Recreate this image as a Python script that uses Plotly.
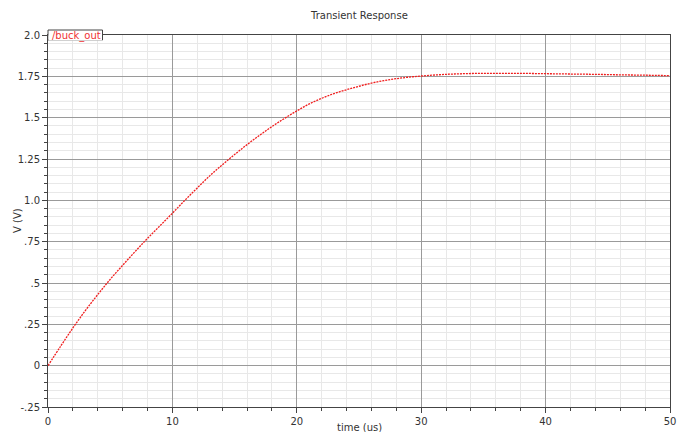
import plotly.graph_objects as go

# time (us)
time_us = [0, 1, 2, 3, 4, 5, 6, 7, 8, 9, 10, 11, 12, 13, 14, 15, 16, 17, 18, 19, 20,
           21, 22, 23, 24, 25, 26, 27, 28, 29, 30, 32, 34, 36, 38, 40, 42, 44, 46, 48, 50]
# /buck_out voltage (V)
buck_out = [0.0, 0.116, 0.228, 0.333, 0.43, 0.522, 0.607, 0.69, 0.77, 0.846, 0.922,
            1.0, 1.075, 1.148, 1.214, 1.277, 1.337, 1.393, 1.446, 1.495, 1.541,
            1.583, 1.617, 1.646, 1.669, 1.69, 1.709, 1.724, 1.736, 1.745, 1.752,
            1.762, 1.767, 1.768, 1.768, 1.766, 1.764, 1.762, 1.759, 1.757, 1.754]

y_tickvals = [2.0, 1.75, 1.5, 1.25, 1.0, 0.75, 0.5, 0.25, 0, -0.25]
y_ticktext = ["2.0", "1.75", "1.5", "1.25", "1.0", ".75", ".5", ".25", "0", "-.25"]
x_tickvals = [0, 10, 20, 30, 40, 50]
x_ticktext = ["0", "10", "20", "30", "40", "50"]

FONT = "DejaVu Sans"
W, H = 683, 432
ML, MR, MT, MB = 48, 13, 35, 25

fig = go.Figure()
fig.add_trace(go.Scatter(
    x=time_us, y=buck_out, mode="lines",
    line=dict(color="rgb(240,30,30)", width=1.3, dash="2px,1px", shape="spline"),
    name="/buck_out", showlegend=False, hoverinfo="x+y"))

grid_major = "#9a9a9a"
grid_minor = "#e8e8e8"
axis_col = "#444444"

fig.update_xaxes(
    range=[0, 50], tickmode="array", tickvals=x_tickvals, ticktext=x_ticktext,
    showgrid=True, gridcolor=grid_major, gridwidth=1,
    ticks="outside", ticklen=5, tickcolor=axis_col,
    showline=True, linecolor=axis_col, linewidth=1, mirror=True,
    zeroline=False, automargin=False,
    minor=dict(tickmode="linear", tick0=0, dtick=2, ticks="outside", ticklen=3,
               tickcolor=axis_col, showgrid=True, gridcolor=grid_minor, gridwidth=1),
    tickfont=dict(family=FONT, size=10, color="#333333"),
)
fig.update_yaxes(
    range=[-0.25, 2.0], tickmode="array", tickvals=y_tickvals, ticktext=y_ticktext,
    showgrid=True, gridcolor=grid_major, gridwidth=1,
    ticks="outside", ticklen=5, tickcolor=axis_col,
    showline=True, linecolor=axis_col, linewidth=1, mirror=True,
    zeroline=False, automargin=False,
    minor=dict(tickmode="linear", tick0=0, dtick=0.05, ticks="outside", ticklen=3,
               tickcolor=axis_col, showgrid=True, gridcolor=grid_minor, gridwidth=1),
    tickfont=dict(family=FONT, size=10, color="#333333"),
)

pw = W - ML - MR
ph = H - MT - MB

def px_x(p):
    return (p - ML) / pw

def px_y(p):
    return (H - MB - p) / ph

# legend tab
fig.add_shape(type="rect", xref="paper", yref="paper",
              x0=px_x(48), x1=px_x(102.5), y0=px_y(40), y1=px_y(30),
              fillcolor="white", line=dict(color=axis_col, width=1), layer="above")
fig.add_shape(type="rect", xref="paper", yref="paper",
              x0=px_x(48.5), x1=px_x(102), y0=px_y(40.5), y1=px_y(35.5),
              fillcolor="white", line=dict(width=0), layer="above")

annotations = [
    dict(text="/buck_out", x=px_x(50), y=px_y(35.5), xref="paper", yref="paper",
         xanchor="left", yanchor="middle", showarrow=False,
         font=dict(family=FONT, size=10, color="rgb(240,50,50)")),
    dict(text="Transient Response", x=0.5, y=px_y(15), xref="paper", yref="paper",
         xanchor="center", yanchor="middle", showarrow=False,
         font=dict(family=FONT, size=10, color="#333333")),
    dict(text="V (V)", x=px_x(17), y=0.5, xref="paper", yref="paper",
         xanchor="center", yanchor="middle", showarrow=False, textangle=-90,
         font=dict(family=FONT, size=10, color="#333333")),
    dict(text="time (us)", x=0.5, y=px_y(427), xref="paper", yref="paper",
         xanchor="center", yanchor="middle", showarrow=False,
         font=dict(family=FONT, size=10, color="#333333")),
]

fig.update_layout(
    width=W, height=H,
    margin=dict(l=ML, r=MR, t=MT, b=MB, pad=0),
    paper_bgcolor="white", plot_bgcolor="white",
    annotations=annotations,
    font=dict(family=FONT, size=10, color="#333333"),
)

fig.write_html("out.html", config={"displayModeBar": False},
               post_script="document.body.style.margin='0';document.body.style.overflow='hidden';")
